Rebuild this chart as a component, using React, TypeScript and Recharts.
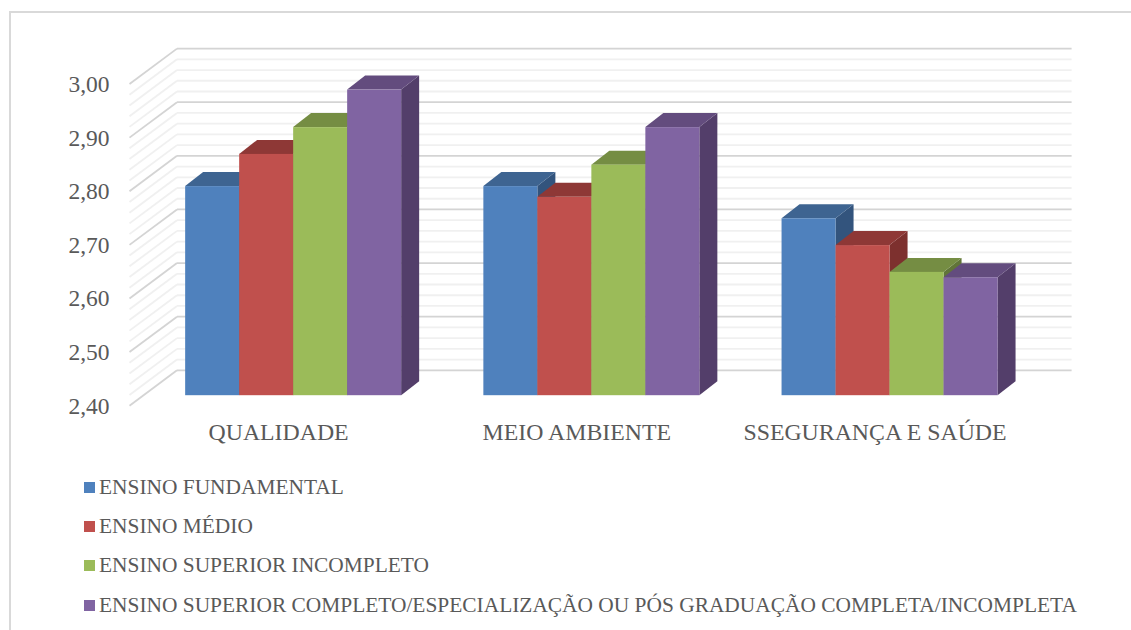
import React from 'react';
import { BarChart, Bar, CartesianGrid, Legend, XAxis, YAxis } from 'recharts';

const CATEGORIES = ['QUALIDADE', 'MEIO AMBIENTE', 'SSEGURANÇA E SAÚDE'];

const ENSINO_FUNDAMENTAL = [2.79, 2.79, 2.73];
const ENSINO_MEDIO = [2.85, 2.77, 2.68];
const SUPERIOR_INCOMPLETO = [2.9, 2.83, 2.63];
const SUPERIOR_COMPLETO = [2.97, 2.9, 2.62];

const SERIES_NAMES = [
  'ENSINO FUNDAMENTAL',
  'ENSINO MÉDIO',
  'ENSINO SUPERIOR INCOMPLETO',
  'ENSINO SUPERIOR COMPLETO/ESPECIALIZAÇÃO OU PÓS GRADUAÇÃO COMPLETA/INCOMPLETA',
];
const FRONT_COLORS = ['#4F81BD', '#C0504D', '#9BBB59', '#8064A2'];
const TOP_COLORS = ['#3E6491', '#8E3836', '#758D43', '#634C7E'];
const SIDE_COLORS = ['#33547D', '#7D302E', '#617539', '#533E6A'];

// every gridline level; the ones ending in 0 get a label and a darker line
const GRID_TICKS = [
  2.4, 2.42, 2.44, 2.46, 2.48, 2.5, 2.52, 2.54, 2.56, 2.58, 2.6, 2.62, 2.64, 2.66, 2.68, 2.7,
  2.72, 2.74, 2.76, 2.78, 2.8, 2.82, 2.84, 2.86, 2.88, 2.9, 2.92, 2.94, 2.96, 2.98, 3.0,
];

const tableData = CATEGORIES.map((name, i) => ({
  name,
  s0: ENSINO_FUNDAMENTAL[i],
  s1: ENSINO_MEDIO[i],
  s2: SUPERIOR_INCOMPLETO[i],
  s3: SUPERIOR_COMPLETO[i],
}));

const FONT = '"Liberation Serif", serif';
const TEXT_COLOR = '#595959';

// bar depth of the fake 3D look
const BAR_DX = 18;
const BAR_DY = 14;
// wall offsets relative to the plane the bars stand on
const BACK_DX = 32.4;
const BACK_DY = -24.9;
const FRONT_DX = -15.1;
const FRONT_DY = 10.5;

const isMajor = (value: number) => Math.round(value * 100) % 10 === 0;

const makeBarShape = (top: string, side: string) => (props: any) => {
  const { x, y, width, height, fill } = props;
  const r = x + width;
  const b = y + height;
  return (
    <g>
      <polygon points={`${r},${y} ${r + BAR_DX},${y - BAR_DY} ${r + BAR_DX},${b - BAR_DY} ${r},${b}`} fill={side} />
      <polygon points={`${x},${y} ${x + BAR_DX},${y - BAR_DY} ${r + BAR_DX},${y - BAR_DY} ${r},${y}`} fill={top} />
      <rect x={x} y={y} width={width} height={height} fill={fill} />
    </g>
  );
};

// back wall line plus the diagonal running down the side wall
const wallLine = (props: any) => {
  const { x1, x2, y1, key } = props;
  const level = Math.round((395.2 - y1) / 10.723);
  const stroke = level % 5 === 0 ? '#D4D4D4' : '#F0F0F0';
  return (
    <g key={key}>
      <line x1={x1 + BACK_DX} x2={x2 + BACK_DX} y1={y1 + BACK_DY} y2={y1 + BACK_DY} stroke={stroke} strokeWidth={1.8} />
      <line x1={x1 + FRONT_DX} x2={x1 + BACK_DX} y1={y1 + FRONT_DY} y2={y1 + BACK_DY} stroke={stroke} strokeWidth={1.8} />
    </g>
  );
};

const ValueTick = (props: any) => {
  const { y, payload } = props;
  if (!isMajor(payload.value)) return null;
  return (
    <text x={109.5} y={y + FRONT_DY + 8} textAnchor="end" fontFamily={FONT} fontSize={23.5} fill={TEXT_COLOR}>
      {payload.value.toFixed(2).replace('.', ',')}
    </text>
  );
};

const CategoryTick = (props: any) => {
  const { x, payload } = props;
  return (
    <text x={x + FRONT_DX} y={440} textAnchor="middle" fontFamily={FONT} fontSize={23.8} fill={TEXT_COLOR}>
      {payload.value}
    </text>
  );
};

const LegendList = (props: any) => (
  <div style={{ fontFamily: FONT, fontSize: 21.4, color: TEXT_COLOR }}>
    {props.payload.map((item: any) => (
      <div key={item.value} style={{ height: 39.3, display: 'flex', alignItems: 'center', whiteSpace: 'nowrap' }}>
        <span style={{ width: 11, height: 11, background: item.color, marginRight: 4, flex: 'none' }} />
        {item.value}
      </div>
    ))}
  </div>
);

export default function App() {
  return (
    <div style={{ position: 'absolute', left: 0, top: 0, width: 1131, height: 630, overflow: 'hidden', background: '#fff' }}>
      <div
        style={{
          position: 'absolute',
          left: 9,
          top: 11,
          width: 1200,
          height: 700,
          borderLeft: '2px solid #D9D9D9',
          borderTop: '2px solid #D9D9D9',
        }}
      />
      <BarChart
        width={1131}
        height={630}
        data={tableData}
        barGap={0}
        barCategoryGap="13.6%"
        margin={{ top: 73.5, right: 91.8, bottom: 204.8, left: 84.6 }}
        style={{ position: 'absolute', left: 0, top: 0 }}
      >
        <CartesianGrid vertical={false} horizontal={wallLine} syncWithTicks />
        <XAxis dataKey="name" height={30} axisLine={false} tickLine={false} tick={CategoryTick} interval={0} />
        <YAxis
          domain={[2.4, 3]}
          ticks={GRID_TICKS}
          interval={0}
          width={60}
          axisLine={false}
          tickLine={false}
          tick={ValueTick}
        />
        {SERIES_NAMES.map((name, i) => (
          <Bar
            key={name}
            dataKey={`s${i}`}
            name={name}
            fill={FRONT_COLORS[i]}
            shape={makeBarShape(TOP_COLORS[i], SIDE_COLORS[i])}
            isAnimationActive={false}
          />
        ))}
        <Legend
          layout="vertical"
          align="center"
          verticalAlign="middle"
          itemSorter={null}
          content={LegendList}
          wrapperStyle={{ position: 'absolute', left: 84, top: 467.5, width: 1040 }}
        />
      </BarChart>
    </div>
  );
}
